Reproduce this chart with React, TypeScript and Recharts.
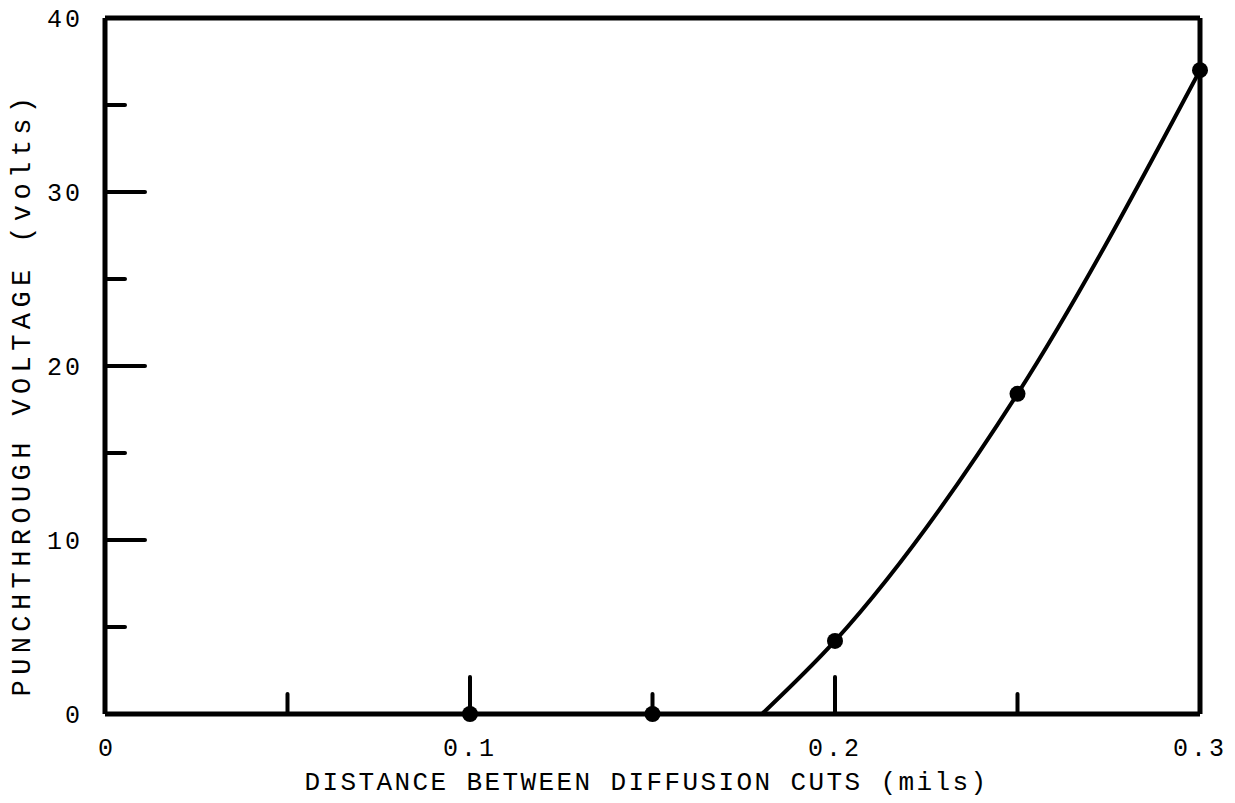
import React from "react";
import {
  ComposedChart,
  Line,
  Scatter,
  XAxis,
  YAxis,
  ReferenceLine,
} from "recharts";

// Measured punchthrough points (distance in mils, voltage in volts)
const measuredDistance = [0.1, 0.15, 0.2, 0.25, 0.3];
const measuredVoltage = [0, 0, 4.2, 18.4, 37];

// Fitted curve through the measurements, starting where it leaves zero
const curveDistance = [0.18, 0.2, 0.25, 0.3];
const curveVoltage = [0, 4.2, 18.4, 37];

const xTicks = [0, 0.05, 0.1, 0.15, 0.2, 0.25, 0.3];
const xMajor = [0.1, 0.2];
const xLabels = ["0", "0.1", "0.2", "0.3"];
const yTicks = [0, 5, 10, 15, 20, 25, 30, 35, 40];
const yLabels = [0, 10, 20, 30, 40];

const measured = measuredDistance.map((d, i) => ({ d, v: measuredVoltage[i] }));
const curve = curveDistance.map((d, i) => ({ d, v: curveVoltage[i] }));

const FONT = "'Liberation Mono', 'DejaVu Sans Mono', monospace";
const INK = "#000";

const near = (a: number, b: number) => Math.abs(a - b) < 1e-9;

const labelFor = (v: number) => {
  const idx = [0, 0.1, 0.2, 0.3].findIndex((t) => near(t, v));
  return idx >= 0 ? xLabels[idx] : null;
};

// X ticks point up into the plot; labels only on tenths
const XTick = (props: any) => {
  const { x, y, payload } = props;
  const v = payload.value as number;
  const inner = v > 0 && v < 0.3 - 1e-9;
  const len = xMajor.some((m) => near(m, v)) ? 37 : 20;
  const text = labelFor(v);
  return (
    <g>
      {inner && (
        <line x1={x} x2={x} y1={y} y2={y - len} stroke={INK} strokeWidth={4} strokeLinecap="round" />
      )}
      {text !== null && (
        <text
          x={v === 0 ? x + 2 : x}
          y={y + 42}
          textAnchor="middle"
          fontFamily={FONT}
          fontSize={25}
          letterSpacing={3}
          fill={INK}
        >
          {text}
        </text>
      )}
    </g>
  );
};

// Y ticks point right into the plot; labels every 10 volts
const YTick = (props: any) => {
  const { x, y, payload } = props;
  const v = payload.value as number;
  const inner = v > 0 && v < 40;
  const major = v % 10 === 0;
  const len = major ? 40 : 20;
  return (
    <g>
      {inner && (
        <line x1={x} x2={x + len} y1={y} y2={y} stroke={INK} strokeWidth={4} strokeLinecap="round" />
      )}
      {yLabels.includes(v) && (
        <text
          x={x - 22}
          y={y + 9}
          textAnchor="end"
          fontFamily={FONT}
          fontSize={25}
          letterSpacing={3}
          fill={INK}
        >
          {v}
        </text>
      )}
    </g>
  );
};

const Dot = (props: any) => <circle cx={props.cx} cy={props.cy} r={8} fill={INK} />;

const YTitle = (props: any) => {
  const vb = props.viewBox || { x: 0, y: 18, width: 105, height: 696 };
  const cx = vb.x + 23;
  const cy = vb.y + vb.height / 2 + 28;
  return (
    <text
      x={cx}
      y={cy}
      transform={`rotate(-90 ${cx} ${cy})`}
      textAnchor="middle"
      dominantBaseline="central"
      fontFamily={FONT}
      fontSize={27}
      letterSpacing={5.4}
      fill={INK}
    >
      PUNCHTHROUGH VOLTAGE (volts)
    </text>
  );
};

const XTitle = (props: any) => {
  const vb = props.viewBox || { x: 105, y: 714, width: 1095, height: 89 };
  return (
    <text
      x={vb.x + vb.width / 2 - 6}
      y={vb.y + 76}
      textAnchor="middle"
      fontFamily={FONT}
      fontSize={26}
      letterSpacing={2.4}
      fill={INK}
    >
      DISTANCE BETWEEN DIFFUSION CUTS (mils)
    </text>
  );
};

export default function App() {
  return (
    <div style={{ position: "absolute", left: 0, top: 0, background: "#fff" }}>
      <ComposedChart
        width={1235}
        height={803}
        margin={{ top: 18, right: 35, bottom: 0, left: 0 }}
      >
        <XAxis
          dataKey="d"
          type="number"
          domain={[0, 0.3]}
          ticks={xTicks}
          interval={0}
          height={89}
          tickSize={0}
          tickMargin={0}
          tickLine={false}
          tick={<XTick />}
          axisLine={{ stroke: INK, strokeWidth: 5 }}
          allowDecimals
          label={<XTitle />}
        />
        <YAxis
          dataKey="v"
          type="number"
          domain={[0, 40]}
          ticks={yTicks}
          interval={0}
          width={105}
          tickSize={0}
          tickMargin={0}
          tickLine={false}
          tick={<YTick />}
          axisLine={{ stroke: INK, strokeWidth: 5 }}
          label={<YTitle />}
        />
        <ReferenceLine y={40} stroke={INK} strokeWidth={5} />
        <ReferenceLine x={0.3} stroke={INK} strokeWidth={5} />
        <Line
          data={curve}
          dataKey="v"
          type="monotone"
          stroke={INK}
          strokeWidth={4}
          dot={false}
          activeDot={false}
          isAnimationActive={false}
        />
        <Scatter
          data={measured}
          dataKey="v"
          fill={INK}
          shape={<Dot />}
          isAnimationActive={false}
        />
      </ComposedChart>
    </div>
  );
}
